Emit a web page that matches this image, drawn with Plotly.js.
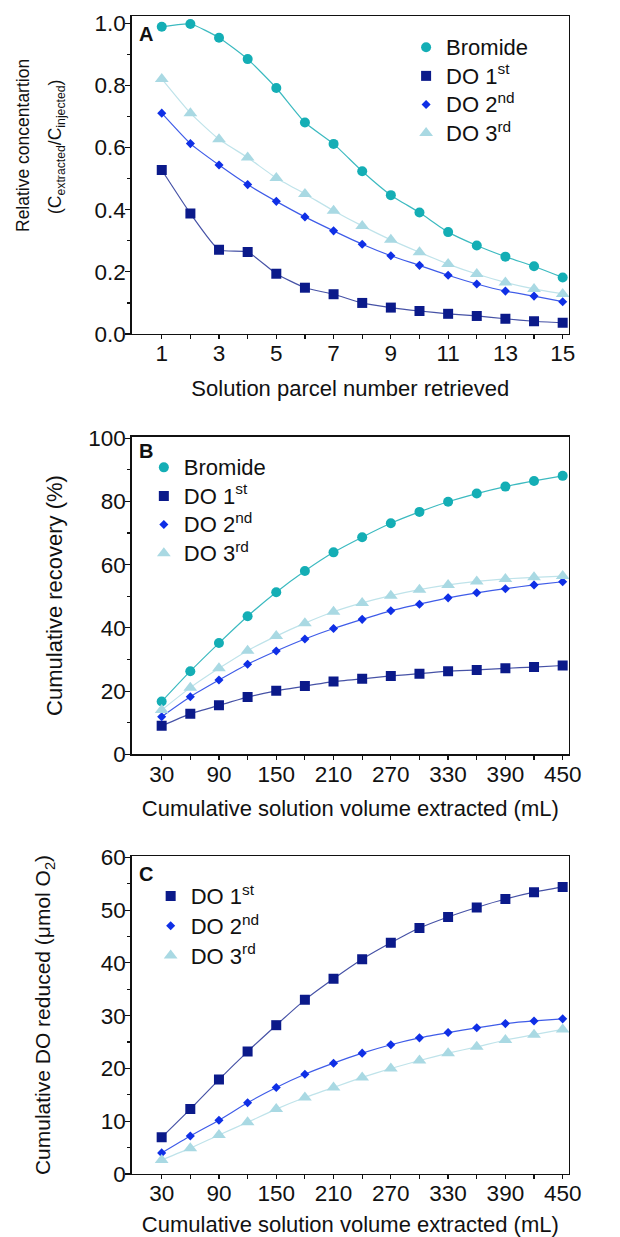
<!DOCTYPE html>
<html>
<head>
<meta charset="utf-8">
<script src="https://cdn.plot.ly/plotly-3.0.1.min.js"></script>
<style>html,body{margin:0;padding:0;background:#fff;}</style>
</head>
<body>
<div id="chart" style="width:620px;height:1237px;"></div>
<script>
// ---------- data ----------
const parcels = [1,2,3,4,5,6,7,8,9,10,11,12,13,14,15];
const volumes = [30,60,90,120,150,180,210,240,270,300,330,360,390,420,450];
const seriesNames = ['Bromide','DO 1<sup>st</sup>','DO 2<sup>nd</sup>','DO 3<sup>rd</sup>'];

// Panel A: relative concentration
const relBromide = [0.989,0.998,0.954,0.885,0.792,0.681,0.612,0.524,0.447,0.391,0.328,0.285,0.249,0.218,0.182];
const relDO1 = [0.528,0.388,0.271,0.264,0.194,0.149,0.128,0.100,0.085,0.074,0.065,0.058,0.049,0.041,0.036];
const relDO2 = [0.711,0.613,0.544,0.481,0.427,0.377,0.332,0.289,0.252,0.221,0.189,0.161,0.138,0.122,0.104];
const relDO3 = [0.821,0.711,0.627,0.568,0.502,0.451,0.397,0.348,0.303,0.263,0.225,0.193,0.166,0.145,0.129];

// Panel B: cumulative recovery (%)
const recBromide = [16.7,26.3,35.2,43.7,51.3,58.0,63.9,68.7,73.1,76.7,79.9,82.5,84.7,86.5,88.1];
const recDO1 = [9.0,12.8,15.5,18.1,20.1,21.6,23.0,23.9,24.8,25.5,26.3,26.7,27.2,27.6,28.1];
const recDO2 = [11.9,18.2,23.5,28.5,32.7,36.5,39.8,42.7,45.4,47.5,49.5,51.1,52.4,53.6,54.6];
const recDO3 = [14.0,21.1,27.2,32.8,37.4,41.5,45.1,47.9,50.2,52.1,53.6,54.7,55.5,56.0,56.4];

// Panel C: cumulative DO reduced (umol O2)
const cumDO1 = [6.95,12.3,17.9,23.2,28.2,33.0,37.0,40.7,43.8,46.6,48.7,50.5,52.1,53.4,54.4];
const cumDO2 = [4.0,7.2,10.2,13.5,16.4,18.9,21.0,22.9,24.5,25.8,26.8,27.7,28.5,29.0,29.4];
const cumDO3 = [2.65,4.9,7.4,9.8,12.3,14.5,16.4,18.3,20.0,21.5,22.9,24.1,25.4,26.4,27.4];

// ---------- styles ----------
const markerColors = ['#14aeb5','#0b1a8a','#0f2fe6','#a9d9e3'];
const lineColors   = ['#3cbac0','#4652a6','#3f5ce8','#bfe3ea'];
const symbols      = ['circle','square','diamond','triangle-up'];
const sizes        = [10,10,7,12];

const traces = [];
function addSeries(x, y, idx, xa, ya, legend) {
  traces.push({
    x: x, y: y, xaxis: xa, yaxis: ya, mode: 'lines', showlegend: false, hoverinfo: 'skip',
    line: {color: lineColors[idx], width: 1.2, shape: 'spline', smoothing: 0.5}
  });
  traces.push({
    x: x, y: y, xaxis: xa, yaxis: ya, mode: 'markers',
    name: '<span style="font-size:22px">' + seriesNames[idx] + '</span>', legend: legend,
    marker: {color: markerColors[idx], symbol: symbols[idx], size: sizes[idx], line: {width: 0}}
  });
}
addSeries(parcels, relBromide, 0, 'x', 'y', 'legend');
addSeries(parcels, relDO1, 1, 'x', 'y', 'legend');
addSeries(parcels, relDO2, 2, 'x', 'y', 'legend');
addSeries(parcels, relDO3, 3, 'x', 'y', 'legend');

addSeries(volumes, recBromide, 0, 'x2', 'y2', 'legend2');
addSeries(volumes, recDO1, 1, 'x2', 'y2', 'legend2');
addSeries(volumes, recDO2, 2, 'x2', 'y2', 'legend2');
addSeries(volumes, recDO3, 3, 'x2', 'y2', 'legend2');

addSeries(volumes, cumDO1, 1, 'x3', 'y3', 'legend3');
addSeries(volumes, cumDO2, 2, 'x3', 'y3', 'legend3');
addSeries(volumes, cumDO3, 3, 'x3', 'y3', 'legend3');

const FONT = 'Liberation Sans, Arial, sans-serif';
const xdom = [0.2124, 0.9177];

function baseAxis(extra) {
  return Object.assign({
    showline: true, linecolor: '#111', linewidth: 1.3, mirror: true,
    showgrid: false, zeroline: false,
    ticks: 'outside', ticklen: 5, tickwidth: 1.2, tickcolor: '#111',
    ticklabelstandoff: -5,
    tickfont: {size: 22.5, color: '#111', family: FONT}
  }, extra);
}

const volTickvals = [30,90,150,210,270,330,390,450];
const volMinor = [60,120,180,240,300,360,420];
const legFont = {size: 19.7, family: FONT, color: '#111'};

const layout = {
  width: 620, height: 1237,
  margin: {l: 0, r: 0, t: 0, b: 0},
  paper_bgcolor: '#fff', plot_bgcolor: '#fff',
  font: {family: FONT, size: 21, color: '#111'},
  showlegend: true,
  xaxis: baseAxis({domain: xdom, anchor: 'y', range: [-0.05, 15.22],
    tickvals: [1,3,5,7,9,11,13,15], ticklen: 4,
    minor: {tickvals: [2,4,6,8,10,12,14], ticks: 'outside', ticklen: 4, tickcolor: '#111'},
    title: {text: 'Solution parcel number retrieved', font: {size: 22}, standoff: 15}}),
  yaxis: baseAxis({domain: [0.730, 0.987], anchor: 'x', range: [0, 1.0235],
    dtick: 0.2, tickformat: '.1f',
    minor: {dtick: 0.1, ticks: 'outside', ticklen: 3, tickcolor: '#111'}}),
  xaxis2: baseAxis({domain: xdom, anchor: 'y2', range: [-1.4, 456.6],
    tickvals: volTickvals, ticklen: 4,
    minor: {tickvals: volMinor, ticks: 'outside', ticklen: 4, tickcolor: '#111'},
    title: {text: 'Cumulative solution volume extracted (mL)', font: {size: 22}, standoff: 15}}),
  yaxis2: baseAxis({domain: [0.3902, 0.6470], anchor: 'x2', range: [0, 100.5],
    dtick: 20,
    minor: {dtick: 10, ticks: 'outside', ticklen: 3, tickcolor: '#111'},
    title: {text: 'Cumulative recovery (%)', font: {size: 22}, standoff: 19}}),
  xaxis3: baseAxis({domain: xdom, anchor: 'y3', range: [-1.4, 456.6],
    tickvals: volTickvals, ticklen: 4,
    minor: {tickvals: volMinor, ticks: 'outside', ticklen: 4, tickcolor: '#111'},
    title: {text: 'Cumulative solution volume extracted (mL)', font: {size: 22}, standoff: 18}}),
  yaxis3: baseAxis({domain: [0.0509, 0.3080], anchor: 'x3', range: [0, 60.25],
    dtick: 10,
    minor: {dtick: 5, ticks: 'outside', ticklen: 3, tickcolor: '#111'},
    title: {text: 'Cumulative DO reduced (μmol O<sub>2</sub>)', font: {size: 21}, standoff: 44}}),
  legend: {x: 0.655, y: 0.9774, xanchor: 'left', yanchor: 'top', bgcolor: 'rgba(0,0,0,0)',
    font: legFont, itemsizing: 'trace'},
  legend2: {x: 0.232, y: 0.6378, xanchor: 'left', yanchor: 'top', bgcolor: 'rgba(0,0,0,0)',
    font: legFont, itemsizing: 'trace'},
  legend3: {x: 0.243, y: 0.2918, xanchor: 'left', yanchor: 'top', bgcolor: 'rgba(0,0,0,0)',
    font: {size: 20.6, family: FONT, color: '#111'}, itemsizing: 'trace'},
  annotations: [
    {xref: 'x domain', yref: 'y domain', x: 0.012, y: 0.985, xanchor: 'left', yanchor: 'top',
     text: '<b>A</b>', showarrow: false, font: {size: 20, color: '#111'}},
    {xref: 'x2 domain', yref: 'y2 domain', x: 0.012, y: 0.995, xanchor: 'left', yanchor: 'top',
     text: '<b>B</b>', showarrow: false, font: {size: 20, color: '#111'}},
    {xref: 'x3 domain', yref: 'y3 domain', x: 0.012, y: 0.985, xanchor: 'left', yanchor: 'top',
     text: '<b>C</b>', showarrow: false, font: {size: 20, color: '#111'}},
    {xref: 'paper', yref: 'paper', x: 23/620, y: 1 - 146/1237, xanchor: 'center', yanchor: 'middle',
     textangle: -90, text: 'Relative concentartion', showarrow: false, font: {size: 17.5, color: '#111'}},
    {xref: 'paper', yref: 'paper', x: 56/620, y: 1 - 147/1237, xanchor: 'center', yanchor: 'middle',
     textangle: -90, text: '(C<sub>extracted</sub>/C<sub>injected</sub>)', showarrow: false, font: {size: 17.5, color: '#111'}}
  ]
};

Plotly.newPlot('chart', traces, layout, {displayModeBar: false, staticPlot: true});
</script>
</body>
</html>
